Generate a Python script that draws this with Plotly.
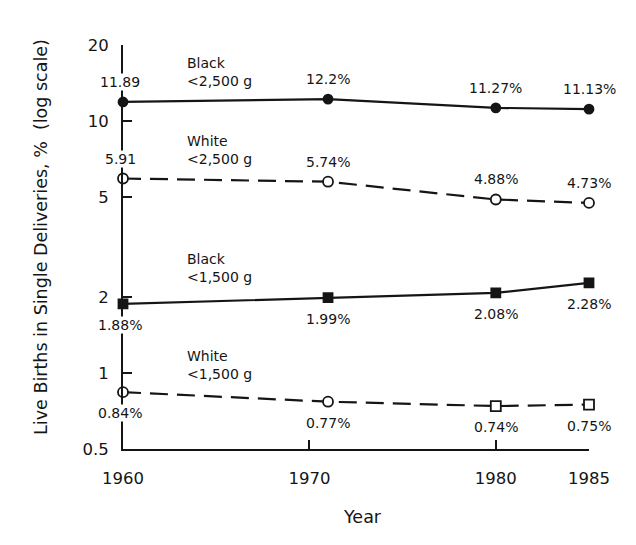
import math
import plotly.graph_objects as go

# Percent of live births (single deliveries) by birth weight and race
years = [1960, 1971, 1980, 1985]
black_lt2500 = [11.89, 12.2, 11.27, 11.13]
white_lt2500 = [5.91, 5.74, 4.88, 4.73]
black_lt1500 = [1.88, 1.99, 2.08, 2.28]
white_lt1500 = [0.84, 0.77, 0.74, 0.75]

x_tick_vals = [1960, 1970, 1980, 1985]
x_tick_text = ["1960", "1970", "1980", "1985"]
y_tick_vals = [0.5, 1, 2, 5, 10, 20]
y_tick_text = ["0.5", "1", "2", "5", "10", "20"]

INK = "#151515"
FONT = "DejaVu Sans, Verdana, sans-serif"

series = [
    dict(race="Black", weight="&lt;2,500 g", values=black_lt2500, dash="solid",
         symbols=["circle"] * 4, fill=INK, size=9, above=True, bare_first=True,
         name_y=0.933),
    dict(race="White", weight="&lt;2,500 g", values=white_lt2500, dash="18px,9px",
         symbols=["circle"] * 4, fill="white", size=10, above=True, bare_first=True,
         name_y=0.740),
    dict(race="Black", weight="&lt;1,500 g", values=black_lt1500, dash="solid",
         symbols=["square"] * 4, fill=INK, size=9, above=False, bare_first=False,
         name_y=0.449),
    dict(race="White", weight="&lt;1,500 g", values=white_lt1500, dash="18px,9px",
         symbols=["circle", "circle", "square", "square"], fill="white", size=10,
         above=False, bare_first=False, name_y=0.207),
]

fig = go.Figure()
annotations = []

for s in series:
    fig.add_trace(go.Scatter(
        x=years, y=s["values"], mode="lines+markers",
        line=dict(color=INK, width=2.2, dash=s["dash"]),
        marker=dict(symbol=s["symbols"], size=s["size"], color=s["fill"],
                    line=dict(color=INK, width=1.8)),
        cliponaxis=False, showlegend=False, hoverinfo="skip",
    ))
    # series name, two lines
    annotations.append(dict(
        xref="paper", yref="paper", x=0.133, y=s["name_y"],
        xanchor="left", yanchor="middle", align="left", showarrow=False,
        text=f"{s['race']}<br>{s['weight']}",
        font=dict(size=14, color=INK, family=FONT),
    ))
    # value labels
    for i, (yr, v) in enumerate(zip(years, s["values"])):
        txt = f"{v:g}" if (i == 0 and s["bare_first"]) else f"{v:g}%"
        annotations.append(dict(
            xref="x", yref="y", x=yr, y=math.log10(v),
            xanchor="center", yanchor="middle", showarrow=False,
            text=txt, yshift=20 if s["above"] else -21,
            xshift=-3 if i == 0 else 0,
            bgcolor="white" if i == 0 else None, borderpad=0,
            font=dict(size=14, color=INK, family=FONT),
        ))

annotations.append(dict(
    xref="paper", yref="paper", x=-0.176, y=0.525, textangle=-90,
    xanchor="center", yanchor="middle", showarrow=False,
    text="Live Births in Single Deliveries, %\u00a0\u00a0(log scale)",
    font=dict(size=17.5, color=INK, family=FONT),
))
annotations.append(dict(
    xref="paper", yref="paper", x=0.513, y=-0.168,
    xanchor="center", yanchor="middle", showarrow=False,
    text="Year", font=dict(size=17.5, color=INK, family=FONT),
))

axis_common = dict(
    showline=True, linewidth=2, linecolor=INK,
    ticks="inside", ticklen=9, tickwidth=2, tickcolor=INK,
    showgrid=False, zeroline=False,
    tickfont=dict(size=16.5, color=INK, family=FONT),
)

fig.update_layout(
    width=636, height=545,
    margin=dict(l=123, r=47, t=45, b=96),
    paper_bgcolor="white", plot_bgcolor="white",
    xaxis=dict(range=[1960, 1985], tickvals=x_tick_vals, ticktext=x_tick_text,
               ticklabelstandoff=13, **axis_common),
    yaxis=dict(type="log", range=[math.log10(0.5), math.log10(20)],
               tickvals=y_tick_vals, ticktext=y_tick_text,
               ticklabelstandoff=9, **axis_common),
    annotations=annotations,
    font=dict(family=FONT, color=INK),
)

fig.write_html("out.html")
